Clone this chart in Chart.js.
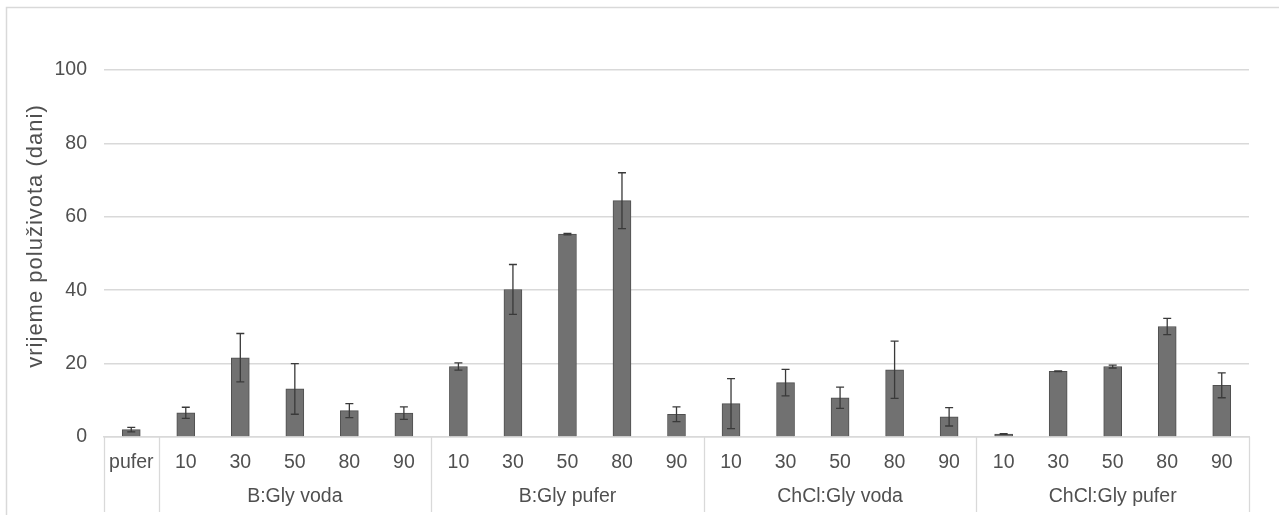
<!DOCTYPE html>
<html>
<head>
<meta charset="utf-8">
<script src="https://cdn.jsdelivr.net/npm/chart.js@4.4.1/dist/chart.umd.min.js"></script>
<style>
html,body{margin:0;padding:0;background:#fff;}
#wrap{width:1279px;height:515px;position:relative;}
</style>
</head>
<body>
<div id="wrap"><canvas id="c" width="1279" height="515"></canvas></div>
<script>
// ---- data ----
const categories = ["pufer","10","30","50","80","90","10","30","50","80","90","10","30","50","80","90","10","30","50","80","90"];
const groupLabels = ["", "B:Gly voda", "B:Gly pufer", "ChCl:Gly voda", "ChCl:Gly pufer"];
const groupSizes = [1, 5, 5, 5, 5];
const values = [2.0, 6.6, 21.6, 13.1, 7.2, 6.5, 19.2, 40.2, 55.3, 64.4, 6.2, 9.1, 14.8, 10.7, 18.3, 5.5, 0.8, 17.9, 19.2, 30.1, 14.1];
const errors = [0.6, 1.5, 6.6, 6.9, 1.9, 1.7, 1.0, 6.8, 0.2, 7.6, 2.0, 6.8, 3.6, 2.9, 7.8, 2.5, 0.1, 0.1, 0.4, 2.2, 3.4];
const yTicks = [0, 20, 40, 60, 80, 100];
const yTitle = "vrijeme poluživota (dani)";

const FONT = "'Liberation Sans', Arial, sans-serif";
const TXT = "#505050";
const LINE = "#d9d9d9";

const frame = {
  id: 'frame',
  beforeDraw(chart) {
    const ctx = chart.ctx;
    ctx.save();
    ctx.strokeStyle = LINE;
    ctx.lineWidth = 1.5;
    ctx.beginPath();
    ctx.moveTo(6.5, 515);
    ctx.lineTo(6.5, 7.5);
    ctx.lineTo(1279, 7.5);
    ctx.stroke();
    ctx.restore();
  }
};

const extras = {
  id: 'extras',
  afterDatasetsDraw(chart) {
    const ctx = chart.ctx;
    const x = chart.scales.x, y = chart.scales.y;
    const area = chart.chartArea;
    ctx.save();
    // error bars
    ctx.strokeStyle = "#3a3a3a";
    ctx.lineWidth = 1.3;
    values.forEach((v, i) => {
      const cx = x.getPixelForValue(i);
      const yt = y.getPixelForValue(v + errors[i]);
      const yb = y.getPixelForValue(Math.max(0, v - errors[i]));
      ctx.beginPath();
      ctx.moveTo(cx, yt); ctx.lineTo(cx, yb);
      ctx.moveTo(cx - 4, yt); ctx.lineTo(cx + 4, yt);
      ctx.moveTo(cx - 4, yb); ctx.lineTo(cx + 4, yb);
      ctx.stroke();
    });
    // category table
    const half = (x.getPixelForValue(1) - x.getPixelForValue(0)) / 2;
    ctx.strokeStyle = LINE;
    ctx.lineWidth = 1.3;
    let idx = 0;
    const bounds = [x.getPixelForValue(0) - half];
    groupSizes.forEach(n => { idx += n; bounds.push(x.getPixelForValue(idx - 1) + half); });
    bounds.forEach(bx => {
      ctx.beginPath();
      ctx.moveTo(Math.round(bx) + 0.5, area.bottom);
      ctx.lineTo(Math.round(bx) + 0.5, 512);
      ctx.stroke();
    });
    // tick labels
    ctx.fillStyle = TXT;
    ctx.font = "19.5px " + FONT;
    ctx.textAlign = "center";
    ctx.textBaseline = "middle";
    categories.forEach((c, i) => {
      ctx.fillText(c, x.getPixelForValue(i), 463);
    });
    // group labels
    groupSizes.forEach((n, g) => {
      const mid = (bounds[g] + bounds[g + 1]) / 2;
      ctx.fillText(groupLabels[g], mid, 497);
    });
    // y title
    ctx.font = "22px " + FONT;
    ctx.letterSpacing = "1px";
    ctx.translate(36, 236);
    ctx.rotate(-Math.PI / 2);
    ctx.fillText(yTitle, 0, 0);
    ctx.restore();
  }
};

new Chart(document.getElementById('c'), {
  type: 'bar',
  data: {
    labels: categories,
    datasets: [{
      data: values,
      backgroundColor: "#717171",
      borderColor: "#4f4f4f",
      borderWidth: 1,
      barThickness: 18
    }]
  },
  options: {
    responsive: false,
    animation: false,
    devicePixelRatio: 1,
    layout: { padding: { top: 70, right: 30, left: 0, bottom: 0 } },
    plugins: { legend: { display: false }, tooltip: { enabled: false } },
    scales: {
      x: {
        grid: { display: false, drawTicks: false },
        border: { color: LINE, width: 1.5 },
        ticks: { display: false },
        afterFit(s) { s.height = 78; }
      },
      y: {
        min: 0, max: 100,
        afterBuildTicks(s) { s.ticks = yTicks.map(v => ({ value: v })); },
        grid: { color: LINE, lineWidth: 1.5, drawTicks: false },
        border: { display: false },
        ticks: { color: TXT, font: { family: FONT, size: 19.5 }, padding: 17 },
        afterFit(s) { s.width = 104; }
      }
    }
  },
  plugins: [frame, extras]
});
</script>
</body>
</html>
